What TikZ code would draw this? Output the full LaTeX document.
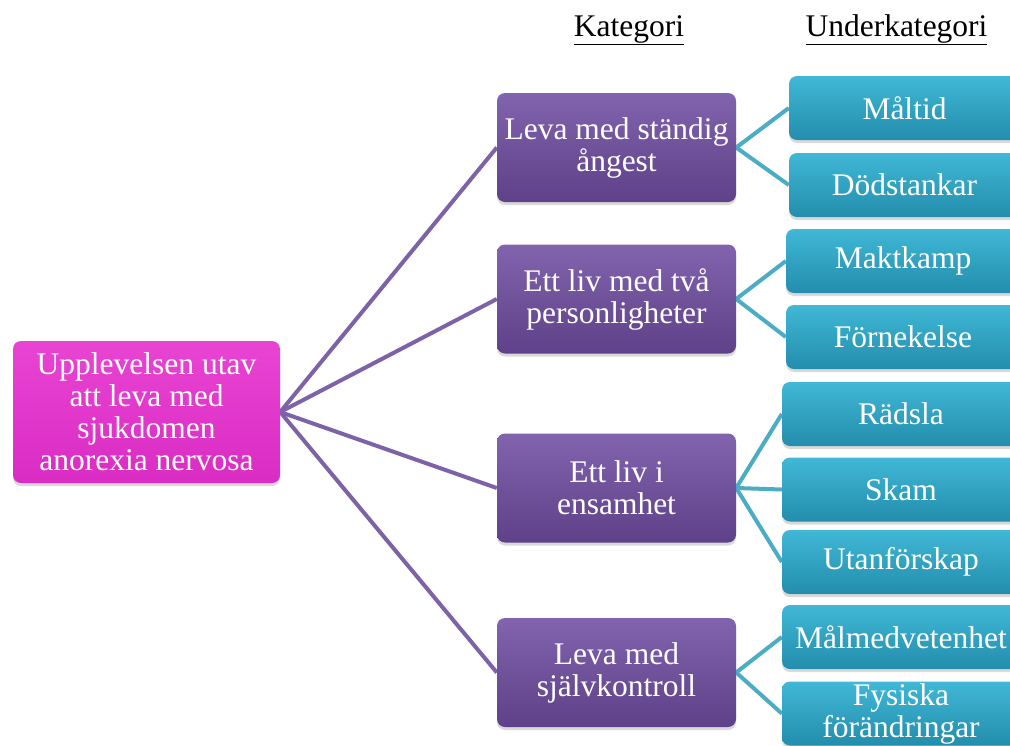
\documentclass[tikz,border=0pt]{standalone}
\usepackage{fontspec}
\setmainfont{Liberation Serif}
\usetikzlibrary{shadows,backgrounds}
\definecolor{magtop}{HTML}{E844D3}
\definecolor{magbot}{HTML}{DA2CC3}
\definecolor{purtop}{HTML}{8263AE}
\definecolor{purbot}{HTML}{5E4188}
\definecolor{teatop}{HTML}{40B8D6}
\definecolor{teabot}{HTML}{238DAC}
\definecolor{purline}{HTML}{7E62A8}
\definecolor{tealline}{HTML}{4BACC6}
\tikzset{
  box/.style={rectangle, rounded corners=8pt, text=white, align=center,
    font=\fontsize{31.5}{32}\selectfont, inner sep=0pt,
    drop shadow={shadow xshift=0pt, shadow yshift=-3pt, opacity=0.3}},
  mainbox/.style={box, top color=magtop, bottom color=magbot,
    minimum width=267pt, minimum height=142pt},
  catbox/.style={box, top color=purtop, bottom color=purbot,
    minimum width=239pt, minimum height=109pt},
  subbox/.style={box, top color=teatop, bottom color=teabot, minimum height=64pt},
  pline/.style={draw=purline, line width=4pt},
  tline/.style={draw=tealline, line width=4pt},
  head/.style={font=\fontsize{31.5}{31.5}\selectfont, anchor=base, inner sep=0pt}
}
\begin{document}
\begin{tikzpicture}[x=1pt, y=-1pt]
\useasboundingbox (0,0) rectangle (1010,745);

\node[head] (hk) at (629,36) {\underline{Kategori}};
\node[head] (hu) at (896.5,36) {\underline{Underkategori}};

\node[mainbox] (main) at (146.5,412) {Upplevelsen utav\\att leva med\\sjukdomen\\anorexia nervosa};

\node[catbox] (c1) at (616.5,147.5) {Leva med ständig\\ångest};
\node[catbox] (c2) at (616.5,299) {Ett liv med två\\personligheter};
\node[catbox] (c3) at (616.5,488) {Ett liv i\\ensamhet};
\node[catbox] (c4) at (616.5,672.5) {Leva med\\självkontroll};

\node[subbox, minimum width=231pt] (s1) at (904.5,108) {Måltid};
\node[subbox, minimum width=231pt] (s2) at (904.5,185) {Dödstankar};
\node[subbox, minimum width=234pt] (s3) at (903,261) {Maktkamp};
\node[subbox, minimum width=234pt] (s4) at (903,337) {Förnekelse};
\node[subbox, minimum width=238pt] (s5) at (901,414) {Rädsla};
\node[subbox, minimum width=238pt] (s6) at (901,489.5) {Skam};
\node[subbox, minimum width=238pt] (s7) at (901,562) {Utanförskap};
\node[subbox, minimum width=238pt] (s8) at (901,637) {Målmedvetenhet};
\node[subbox, minimum width=238pt] (s9) at (901,713.5) {Fysiska\\förändringar};

\begin{scope}[on background layer]
  \draw[pline] (main.east) -- (c1.west);
  \draw[pline] (main.east) -- (c2.west);
  \draw[pline] (main.east) -- (c3.west);
  \draw[pline] (main.east) -- (c4.west);
  \draw[tline] (c1.east) -- (s1.west);
  \draw[tline] (c1.east) -- (s2.west);
  \draw[tline] (c2.east) -- (s3.west);
  \draw[tline] (c2.east) -- (s4.west);
  \draw[tline] (c3.east) -- (s5.west);
  \draw[tline] (c3.east) -- (s6.west);
  \draw[tline] (c3.east) -- (s7.west);
  \draw[tline] (c4.east) -- (s8.west);
  \draw[tline] (c4.east) -- (s9.west);
\end{scope}
\end{tikzpicture}
\end{document}
